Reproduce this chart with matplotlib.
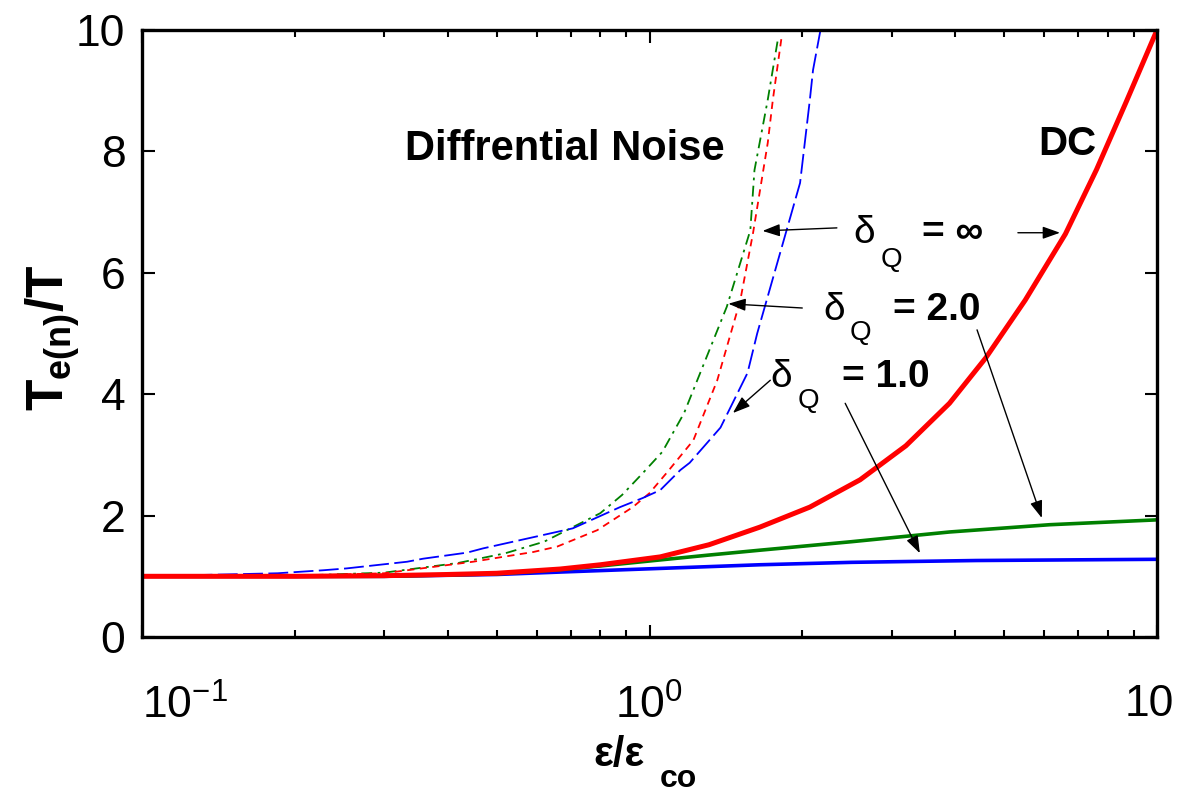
import matplotlib
matplotlib.use('Agg')
import matplotlib.pyplot as plt
import matplotlib.transforms as mtransforms

# DC curves (solid)
x_dc = [0.1, 0.2, 0.3, 0.4, 0.5, 0.667, 0.8, 1.05, 1.31, 1.65, 2.07, 2.6, 3.2, 3.9, 4.6, 5.5, 6.6, 7.6, 8.7, 10.0]
dc_inf = [1.0, 1.0, 1.01, 1.03, 1.05, 1.12, 1.19, 1.32, 1.52, 1.81, 2.14, 2.59, 3.15, 3.85, 4.6, 5.55, 6.64, 7.7, 8.82, 10.0]

x_dc2 = [0.1, 0.3, 0.5, 0.667, 0.8, 1.05, 1.31, 1.65, 2.5, 3.9, 6.15, 10.0]
dc_2 = [1.0, 1.0, 1.04, 1.11, 1.17, 1.27, 1.35, 1.43, 1.57, 1.73, 1.85, 1.93]

x_dc1 = [0.1, 0.3, 0.5, 0.667, 1.05, 1.65, 2.5, 4.4, 10.0]
dc_1 = [1.0, 1.0, 1.03, 1.07, 1.13, 1.19, 1.23, 1.26, 1.28]

# differential noise curves (dashed)
x_dn_inf = [0.1, 0.2, 0.3, 0.449, 0.514, 0.59, 0.658, 0.789, 0.848, 0.927, 1.0, 1.08,
            1.22, 1.36, 1.51, 1.60, 1.71, 1.75, 1.82]
dn_inf = [1.0, 1.01, 1.05, 1.24, 1.32, 1.40, 1.49, 1.76, 1.93, 2.14, 2.37, 2.70,
          3.24, 4.23, 5.55, 6.66, 8.14, 8.85, 9.87]

x_dn_2 = [0.1, 0.2, 0.3, 0.42, 0.52, 0.62, 0.80, 0.883, 0.97, 1.06, 1.17, 1.42,
          1.58, 1.61, 1.71, 1.79]
dn_2 = [1.0, 1.01, 1.06, 1.22, 1.38, 1.57, 2.04, 2.34, 2.70, 3.05, 3.69, 5.44,
        6.7, 7.69, 8.85, 9.84]

x_dn_1 = [0.1, 0.185, 0.228, 0.253, 0.333, 0.358, 0.437, 0.470, 0.617, 0.706, 0.875,
          0.97, 1.05, 1.15, 1.20, 1.38, 1.56, 1.63, 1.98, 2.07, 2.10, 2.17]
dn_1 = [1.0, 1.05, 1.10, 1.13, 1.24, 1.29, 1.39, 1.46, 1.68, 1.79, 2.14,
        2.29, 2.42, 2.75, 2.87, 3.45, 4.35, 5.0, 7.48, 8.85, 9.34, 9.98]

red = '#ff0000'
green = '#008000'
blue = '#0000ff'

plt.rcParams['font.family'] = ['Liberation Sans', 'DejaVu Sans']
plt.rcParams['mathtext.fontset'] = 'custom'
plt.rcParams['mathtext.rm'] = 'Liberation Sans'
plt.rcParams['mathtext.bf'] = 'Liberation Sans:bold'
plt.rcParams['mathtext.it'] = 'Liberation Sans:italic'

fig = plt.figure(figsize=(11.8, 7.95), dpi=100)
ax = fig.add_axes([142/1180, 1 - 637/795, (1157 - 142)/1180, (637 - 30)/795])

ax.plot(x_dn_2, dn_2, color=green, lw=1.3, dashes=[6, 3, 1.5, 3])
ax.plot(x_dn_inf, dn_inf, color=red, lw=1.3, dashes=[4, 3])
ax.plot(x_dn_1, dn_1, color=blue, lw=1.3, dashes=[11, 3])

ax.plot(x_dc1, dc_1, color=blue, lw=2.6)
ax.plot(x_dc2, dc_2, color=green, lw=2.6)
ax.plot(x_dc, dc_inf, color=red, lw=3.6)

ax.set_xscale('log')
ax.set_xlim(0.1, 10)
ax.set_ylim(0, 10)
ax.set_yticks([0, 2, 4, 6, 8, 10])
ax.set_xticks([0.1, 1, 10])
ax.set_xticklabels([r'$\mathdefault{10^{-1}}$', r'$\mathdefault{10^{0}}$', '10'])

for s in ax.spines.values():
    s.set_linewidth(2.4)

ax.tick_params(which='both', direction='in', top=True, right=True, width=1.5)
ax.tick_params(which='major', length=9)
ax.tick_params(which='minor', length=5)
ax.tick_params(axis='y', pad=12)
ax.tick_params(axis='x', pad=34)

for lab in ax.get_xticklabels() + ax.get_yticklabels():
    lab.set_fontsize(32)
xl = ax.get_xticklabels()
xl[0].set_horizontalalignment('left')
xl[2].set_transform(xl[2].get_transform() +
                    mtransforms.ScaledTranslation(-8/100, 0, fig.dpi_scale_trans))

# axis labels
fig.text(53/1180, 1 - 338/795, r'$\mathbf{T_{e(n)}/T}$', fontsize=37,
         rotation=90, ha='center', va='center')
fig.text(593/1180, 1 - 766/795, 'ε/ε', fontsize=30, fontweight='bold',
         ha='left', va='baseline')
fig.text(660/1180, 1 - 787/795, 'co', fontsize=23, fontweight='bold',
         ha='left', va='baseline')

# annotations
ax.text(0.33, 7.86, 'Diffrential Noise', fontsize=30, fontweight='bold',
        ha='left', va='baseline')
ax.text(5.83, 7.94, 'DC', fontsize=29, fontweight='bold', ha='left', va='baseline')

labels = [
    ((2.52, 6.49), (2.85, 6.10), (3.44, 6.49), '= ∞'),
    ((2.20, 5.22), (2.48, 4.89), (3.02, 5.22), '= 2.0'),
    ((1.73, 4.12), (1.96, 3.77), (2.39, 4.12), '= 1.0'),
]
for dpos, qpos, epos, txt in labels:
    ax.text(*dpos, 'δ', fontsize=28, ha='left', va='baseline')
    ax.text(*qpos, 'Q', fontsize=20, ha='left', va='baseline')
    ax.text(*epos, txt, fontsize=28, fontweight='bold', ha='left', va='baseline',
            family=['Liberation Sans', 'DejaVu Sans'])

arrows = [
    ((2.34, 6.74), (1.67, 6.69)),
    ((5.32, 6.66), (6.44, 6.66)),
    ((2.0, 5.42), (1.43, 5.49)),
    ((4.42, 5.06), (5.93, 1.96)),
    ((1.73, 4.23), (1.46, 3.69)),
    ((2.43, 3.85), (3.41, 1.38)),
]
for tail, head in arrows:
    ax.annotate('', xy=head, xytext=tail,
                arrowprops=dict(arrowstyle='-|>,head_length=0.7,head_width=0.25',
                                color='black', lw=1.0, mutation_scale=15,
                                shrinkA=0, shrinkB=0))

fig.savefig('out.png', dpi=100)
